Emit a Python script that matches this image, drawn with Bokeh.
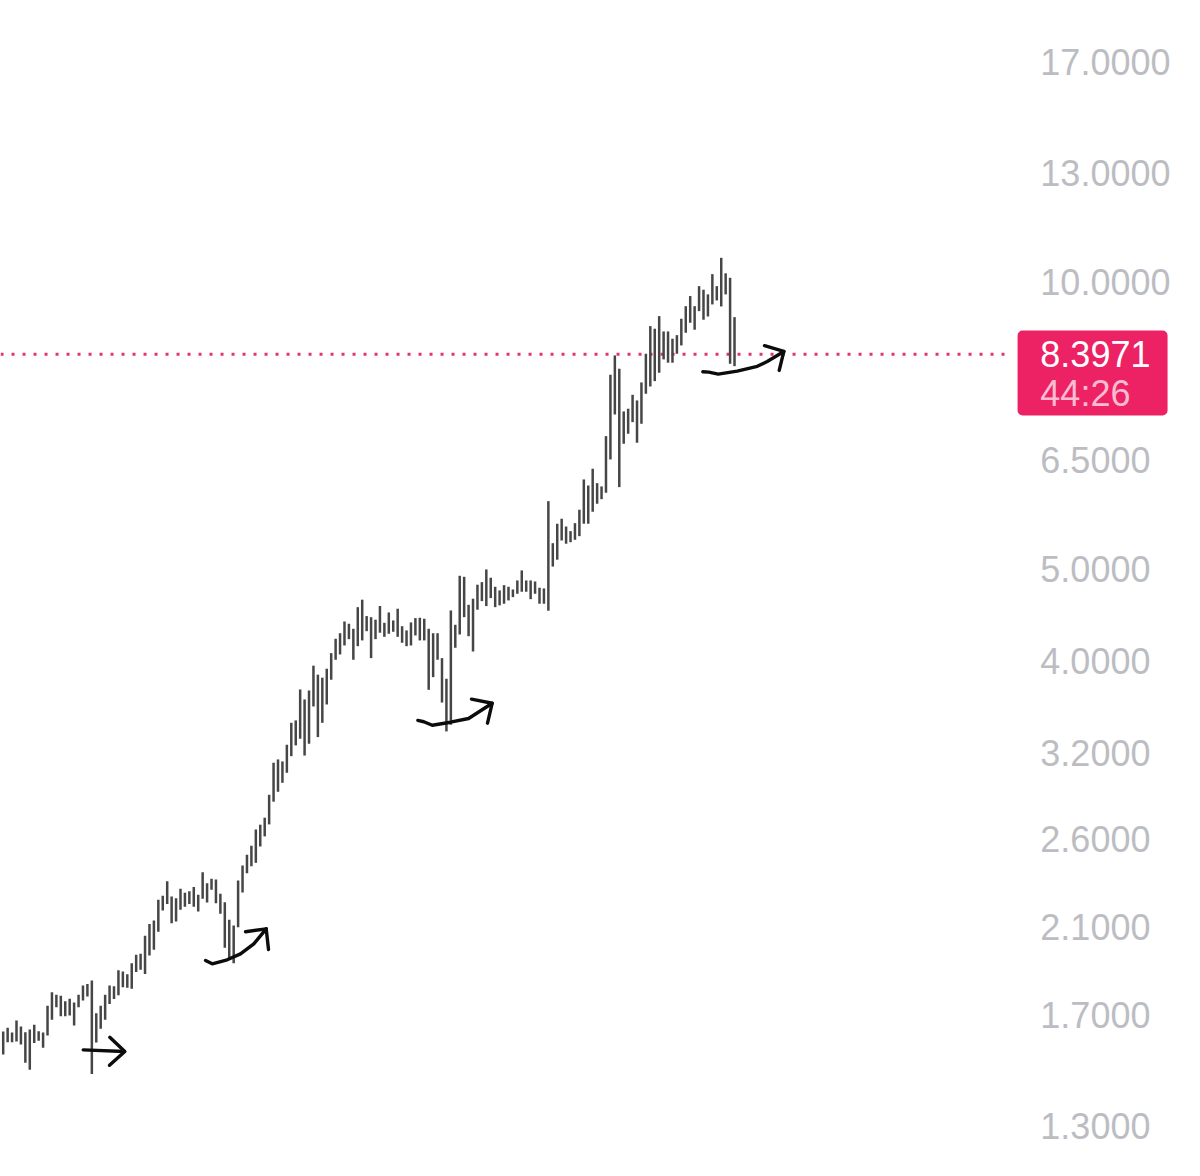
from bokeh.core.properties import value
from bokeh.embed import file_html
from bokeh.models import Range1d
from bokeh.plotting import figure
from bokeh.resources import INLINE

# high / low of every bar
highs = [1.632, 1.647, 1.628, 1.676, 1.652, 1.629, 1.640, 1.659, 1.633, 1.628,
         1.737, 1.795, 1.784, 1.779, 1.756, 1.766, 1.751, 1.784, 1.824, 1.831,
         1.846, 1.706, 1.737, 1.784, 1.824, 1.821, 1.892, 1.887, 1.874, 1.925,
         1.965, 1.970, 2.057, 2.117, 2.135, 2.244, 2.266, 2.347, 2.262, 2.253,
         2.305, 2.282, 2.291, 2.314, 2.271, 2.399, 2.336, 2.361, 2.357, 2.277,
         2.231, 2.138, 2.109, 2.351, 2.438, 2.503, 2.557, 2.660, 2.691, 2.737,
         2.893, 3.126, 3.151, 3.136, 3.265, 3.443, 3.463, 3.732, 3.643, 3.723,
         3.953, 3.868, 3.840, 3.924, 4.075, 4.219, 4.276, 4.399, 4.375, 4.322,
         4.554, 4.637, 4.457, 4.445, 4.418, 4.567, 4.385, 4.496, 4.410, 4.537,
         4.349, 4.305, 4.389, 4.435, 4.439, 4.428, 4.322, 4.276, 4.276, 4.026,
         3.830, 4.518, 4.364, 4.913, 4.901, 4.580, 4.648, 4.808, 4.838, 4.989,
         4.890, 4.784, 4.742, 4.803, 4.784, 4.753, 4.858, 4.977, 4.858, 4.858,
         4.846, 4.773, 4.765, 5.885, 5.316, 5.572, 5.640, 5.535, 5.473, 5.580,
         5.764, 6.202, 6.112, 6.365, 6.147, 6.098, 6.887, 7.989, 8.371, 8.106,
         7.311, 7.359, 7.611, 7.508, 7.842, 8.405, 8.986, 8.930, 9.206, 8.871,
         8.871, 8.716, 8.792, 9.148, 9.430, 9.664, 9.430, 9.898, 9.813, 9.703,
         10.19, 9.898, 10.60, 10.21, 10.10, 9.184]
lows = [1.544, 1.590, 1.590, 1.593, 1.581, 1.513, 1.488, 1.587, 1.596, 1.569,
        1.616, 1.679, 1.731, 1.693, 1.693, 1.696, 1.656, 1.731, 1.759, 1.776,
        1.473, 1.589, 1.643, 1.679, 1.744, 1.765, 1.782, 1.816, 1.814, 1.810,
        1.884, 1.895, 1.876, 1.961, 1.989, 2.077, 2.187, 2.222, 2.120, 2.129,
        2.191, 2.206, 2.222, 2.206, 2.182, 2.250, 2.229, 2.299, 2.226, 2.169,
        1.998, 1.946, 1.925, 2.100, 2.284, 2.393, 2.433, 2.454, 2.553, 2.616,
        2.693, 2.845, 2.914, 2.978, 3.051, 3.176, 3.260, 3.313, 3.181, 3.273,
        3.582, 3.326, 3.443, 3.599, 3.821, 4.010, 4.062, 4.151, 4.215, 4.010,
        4.144, 4.202, 4.297, 4.026, 4.215, 4.281, 4.239, 4.270, 4.291, 4.239,
        4.178, 4.144, 4.151, 4.253, 4.202, 4.202, 3.729, 3.845, 4.010, 3.616,
        3.372, 3.427, 4.128, 4.263, 4.445, 4.245, 4.091, 4.526, 4.621, 4.566,
        4.655, 4.554, 4.574, 4.592, 4.629, 4.666, 4.704, 4.727, 4.727, 4.643,
        4.704, 4.592, 4.592, 4.515, 5.024, 5.108, 5.351, 5.309, 5.329, 5.360,
        5.407, 5.572, 5.572, 5.736, 5.848, 5.913, 6.006, 6.509, 7.257, 6.088,
        6.761, 6.927, 7.124, 6.778, 7.096, 7.630, 7.766, 7.867, 8.028, 8.291,
        8.225, 8.225, 8.405, 8.576, 8.843, 9.060, 8.908, 9.318, 9.126, 9.198,
        9.470, 9.562, 9.424, 9.703, 8.204, 8.157]

tick_prices = [17, 13, 10, 6.5, 5, 4, 3.2, 2.6, 2.1, 1.7, 1.3]
tick_labels = ["17.0000", "13.0000", "10.0000", "6.5000", "5.0000", "4.0000",
               "3.2000", "2.6000", "2.1000", "1.7000", "1.3000"]
last_price = 8.3971
countdown = "44:26"

# hand drawn arrows, in bar number / price
stroke_xs = [[18.05, 27.37], [24.05, 27.44, 23.98],
             [45.65, 47.16, 50.54, 53.54, 56.54, 59.34], [54.67, 59.34, 59.86],
             [93.55, 94.9, 96.8, 100.93, 105.0, 110.33], [105.66, 110.33, 109.27],
             [157.85, 159.2, 161.33, 165.6, 170.13, 172.38, 176.13], [171.77, 176.13, 175.08]]
stroke_ys = [[1.561, 1.555], [1.609, 1.555, 1.504],
             [1.938, 1.922, 1.941, 1.969, 2.017, 2.092], [2.077, 2.092, 1.990],
             [3.463, 3.452, 3.423, 3.448, 3.479, 3.610], [3.646, 3.610, 3.440],
             [8.047, 8.040, 8.001, 8.059, 8.153, 8.250, 8.452], [8.570, 8.452, 8.073]]

bars = list(range(len(highs)))
label_x = 234
font = value("Liberation Sans")

p = figure(frame_width=1187, frame_height=1160, output_backend="svg", toolbar_location=None,
           x_range=Range1d(-0.609, 267.2), y_range=Range1d(1.1946, 19.75),
           y_axis_type="log", x_axis_location=None, y_axis_location=None,
           min_border=0, outline_line_color=None)
p.grid.visible = False

p.segment(x0=[-0.6], x1=[226.8], y0=[last_price], y1=[last_price],
          line_color="#e0356f", line_width=3, line_dash="3 8")
p.segment(x0=bars, x1=bars, y0=lows, y1=highs, line_color="#464646", line_width=2.5)
p.multi_line(stroke_xs, stroke_ys, line_color="#0c0c0c", line_width=3.4,
             line_cap="round", line_join="round")

p.text(x=[label_x] * len(tick_prices), y=tick_prices, text=tick_labels, text_color="#bcbdc3",
       text_font=font, text_font_size="36px", text_baseline="middle")

p.quad(left=[228.86], right=[262.7], top=[8.89], bottom=[7.24], fill_color="#ec2265",
       line_color=None, border_radius=5)
p.text(x=[label_x], y=[last_price], text=[f"{last_price:.4f}"], text_color="#ffffff",
       text_font=font, text_font_size="36px", text_baseline="middle")
p.text(x=[label_x], y=[7.636], text=[countdown], text_color="#fbbcd2",
       text_font=font, text_font_size="36px", text_baseline="middle")

open("out.html", "w").write(file_html(p, INLINE))
